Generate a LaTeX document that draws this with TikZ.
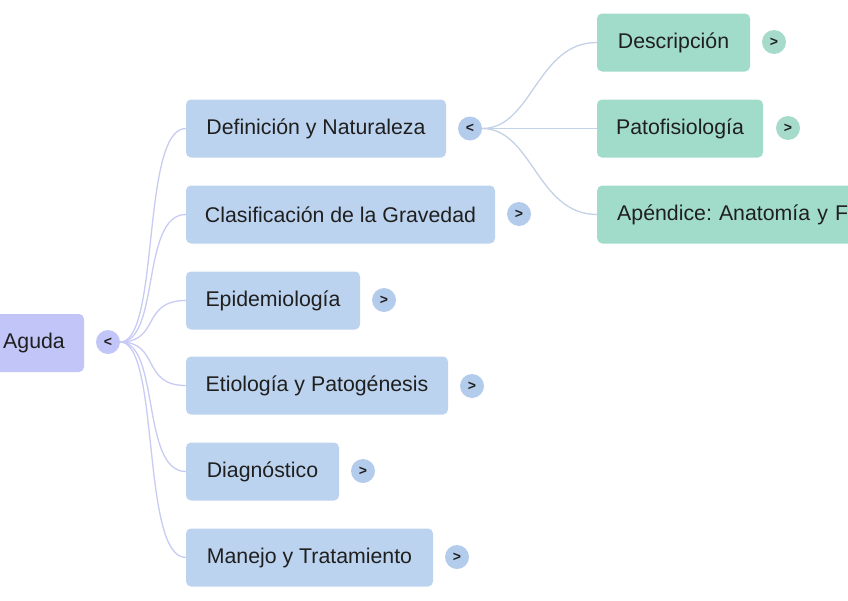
\documentclass[tikz,border=0pt]{standalone}
\usepackage{fontspec}
\setmainfont{Liberation Sans}
\frenchspacing
\begin{document}
\begin{tikzpicture}[x=1pt,y=-1pt,
  box/.style={rounded corners=5pt, minimum height=58pt, inner sep=0pt, text=black!88, font=\fontsize{21.3}{24}\selectfont},
  root/.style={box, fill=rootc},
  lone/.style={box, fill=lonec},
  ltwo/.style={box, fill=ltwoc},
  tog/.style={circle, minimum size=24pt, inner sep=0pt, font=\fontsize{14}{15}\selectfont\bfseries, text=black!88},
  togone/.style={tog, fill=togonec},
  togtwo/.style={tog, fill=togtwoc},
  rootlink/.style={draw=rootlinkc, line width=1.3pt},
  link/.style={draw=linkc, line width=1.3pt}]
\definecolor{rootc}{HTML}{C2C5F8}
\definecolor{lonec}{HTML}{BCD3EF}
\definecolor{ltwoc}{HTML}{A1DCCB}
\definecolor{togonec}{HTML}{B4CCEC}
\definecolor{togtwoc}{HTML}{A6DBCB}
\definecolor{rootlinkc}{HTML}{C8CBF3}
\definecolor{linkc}{HTML}{C3D2E6}
\useasboundingbox (0,0) rectangle (848,600);
\clip (0,0) rectangle (848,600);
% root
\node[root, minimum width=100pt] (aguda) at (34,343) {Aguda};
\node[togone, fill=rootc] (ta) at (108,342) {<};
% level 1
\node[lone, minimum width=260pt] (def) at (316,128.5) {Definición y Naturaleza};
\node[lone, minimum width=309pt] (cla) at (340.5,214.5) {Clasificación de la Gravedad};
\node[lone, minimum width=174pt] (epi) at (273,300.5) {Epidemiología};
\node[lone, minimum width=262pt] (eti) at (317,385.5) {Etiología y Patogénesis};
\node[lone, minimum width=153pt] (dia) at (262.5,471.5) {Diagnóstico};
\node[lone, minimum width=247pt] (man) at (309.5,557.5) {Manejo y Tratamiento};
\node[togone] (tdef) at (470,128.5) {<};
\node[togone] (tcla) at (519,214) {>};
\node[togone] (tepi) at (384,300) {>};
\node[togone] (teti) at (472,386) {>};
\node[togone] (tdia) at (363,471) {>};
\node[togone] (tman) at (457,557) {>};
% level 2
\node[ltwo, minimum width=153pt] (des) at (673.5,42.5) {Descripción};
\node[ltwo, minimum width=166pt] (pat) at (680,128.5) {Patofisiología};
\node[ltwo, anchor=west, text width=380pt, align=left, inner xsep=20pt] (ape) at (597,214.5) {Apéndice: Anatomía y Fisiología};
\node[togtwo] (tdes) at (774,42) {>};
\node[togtwo] (tpat) at (788,128) {>};
% root links
\foreach \n in {def,cla,epi,eti,dia,man}
  \draw[rootlink] (ta.east) .. controls +(40,0) and +(-45,0) .. (\n.west);
% level-1 links
\foreach \n in {des,pat,ape}
  \draw[link] (tdef.east) .. controls +(50,0) and +(-60,0) .. (\n.west);
\end{tikzpicture}
\end{document}
